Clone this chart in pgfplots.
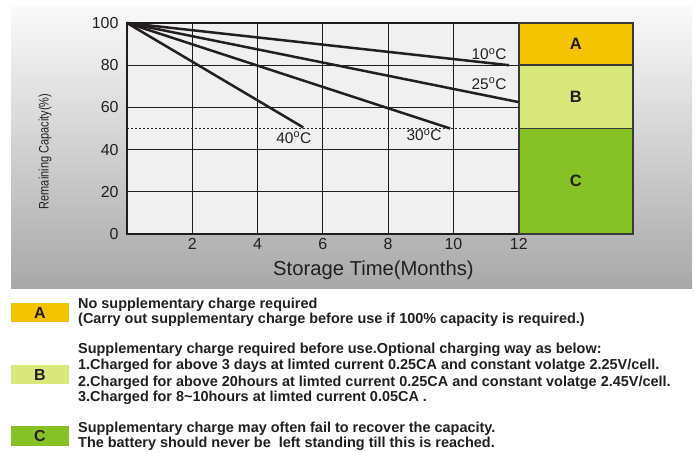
\documentclass[border=0pt]{standalone}
\usepackage{pgfplots}
\pgfplotsset{compat=1.18}
\usepackage{fontspec}
\setmainfont{Liberation Sans}
\newfontfamily\narrowsans[FakeStretch=0.8]{Liberation Sans}
\definecolor{colA}{HTML}{F5C400}
\definecolor{colB}{HTML}{D9E87A}
\definecolor{colC}{HTML}{86C226}
\definecolor{plotbg}{HTML}{F0F0F0}
\definecolor{lineC}{HTML}{231F20}
\definecolor{gridC}{HTML}{1E1E1E}
\definecolor{boxC}{HTML}{3A3A3A}
\definecolor{bgTop}{HTML}{FAFAFA}
\definecolor{bgMid}{HTML}{E0E0E0}
\definecolor{bgBot}{HTML}{A8A8A8}
\begin{document}
\begin{tikzpicture}[x=1bp,y=1bp]
\path[use as bounding box] (0,0) rectangle (695,-452);
\shade[top color=bgTop, middle color=bgMid, bottom color=bgBot] (11,-7) rectangle (692,-289);
\begin{axis}[
  at={(127bp,-234bp)}, anchor=south west,
  scale only axis, width=506bp, height=211bp,
  xmin=0, xmax=15.5, ymin=0, ymax=100,
  xtick={2,4,...,12}, ytick={0,20,...,100},
  major tick length=0pt,
  grid=major,
  grid style={line width=1.1bp, color=gridC},
  axis line style={line width=1.2bp, color=gridC},
  axis background/.style={fill=plotbg},
  /pgf/number format/assume math mode=true,
  tick label style={font=\fontsize{16}{16}\selectfont, text=lineC},
  xticklabel style={yshift=-1bp},
  yticklabel style={xshift=-5bp},
  xlabel={Storage Time(Months)},
  xlabel style={at={(axis description cs:0.487,0)}, anchor=base, yshift=-41bp, font=\fontsize{20.3}{20}\selectfont, text=lineC},
  ylabel={Remaining Capacity(\%)},
  ylabel style={at={(axis description cs:-0.162,0.391)}, anchor=center, rotate=0, font=\narrowsans\fontsize{13.8}{13.5}\selectfont, text=lineC},
  clip=false,
]
% dotted 50% line
\addplot[line width=1bp, color=lineC, dash pattern=on 1.5bp off 2.5bp] coordinates {(0,50) (12,50)};
% zone boxes
\addplot[fill=colC, draw=boxC, line width=1.5bp] coordinates {(12,0) (15.5,0) (15.5,50) (12,50) (12,0)};
\addplot[fill=colB, draw=boxC, line width=1.5bp] coordinates {(12,50) (15.5,50) (15.5,80) (12,80) (12,50)};
\addplot[fill=colA, draw=boxC, line width=1.5bp] coordinates {(12,80) (15.5,80) (15.5,100) (12,100) (12,80)};
% curves
\addplot[line width=2.5bp, color=lineC] coordinates {(0,100) (11.7,80)};
\addplot[line width=2.5bp, color=lineC] coordinates {(0,100) (12,62.5)};
\addplot[line width=2.5bp, color=lineC] coordinates {(0,100) (9.9,50)};
\addplot[line width=2.5bp, color=lineC] coordinates {(0,100) (5.4,50.5)};
% labels
\node[anchor=base west, inner sep=0, font=\fontsize{15.5}{15}\selectfont, text=lineC] at (axis cs:10.55,82.5) {10\textsuperscript{o}C};
\node[anchor=base west, inner sep=0, font=\fontsize{15.5}{15}\selectfont, text=lineC] at (axis cs:10.55,68.7) {25\textsuperscript{o}C};
\node[anchor=base west, inner sep=0, font=\fontsize{15.5}{15}\selectfont, text=lineC] at (axis cs:8.56,44.1) {30\textsuperscript{o}C};
\node[anchor=base west, inner sep=0, font=\fontsize{15.5}{15}\selectfont, text=lineC] at (axis cs:4.57,43.1) {40\textsuperscript{o}C};
\node[font=\bfseries\fontsize{16.5}{16}\selectfont, text=lineC] at (axis cs:13.75,90) {A};
\node[font=\bfseries\fontsize{16.5}{16}\selectfont, text=lineC] at (axis cs:13.75,65) {B};
\node[font=\bfseries\fontsize{16.5}{16}\selectfont, text=lineC] at (axis cs:13.75,25) {C};
\end{axis}
% legend section
\fill[colA] (11,-303) rectangle (69,-322);
\fill[colB] (11,-365) rectangle (69,-384);
\fill[colC] (11,-426) rectangle (69,-446);
\node[font=\bfseries\fontsize{16}{16}\selectfont, text=lineC] at (40,-313) {A};
\node[font=\bfseries\fontsize{16}{16}\selectfont, text=lineC] at (40,-375) {B};
\node[font=\bfseries\fontsize{16}{16}\selectfont, text=lineC] at (40,-436) {C};
\begin{scope}[every node/.style={anchor=base west, inner sep=0, font=\bfseries\fontsize{14.5}{14}\selectfont, text=lineC}]
\node at (78,-309) {No supplementary charge required};
\node at (78,-324) {(Carry out supplementary charge before use if 100\% capacity is required.)};
\node at (78,-353) {Supplementary charge required before use.Optional charging way as below:};
\node at (78,-369) {1.Charged for above 3 days at limted current 0.25CA and constant volatge 2.25V/cell.};
\node at (78,-386) {2.Charged for above 20hours at limted current 0.25CA and constant volatge 2.45V/cell.};
\node at (78,-401) {3.Charged for 8\textasciitilde10hours at limted current 0.05CA .};
\node at (78,-432) {Supplementary charge may often fail to recover the capacity.};
\node at (78,-447) {The battery should never be\ \ left standing till this is reached.};
\end{scope}
\end{tikzpicture}
\end{document}
